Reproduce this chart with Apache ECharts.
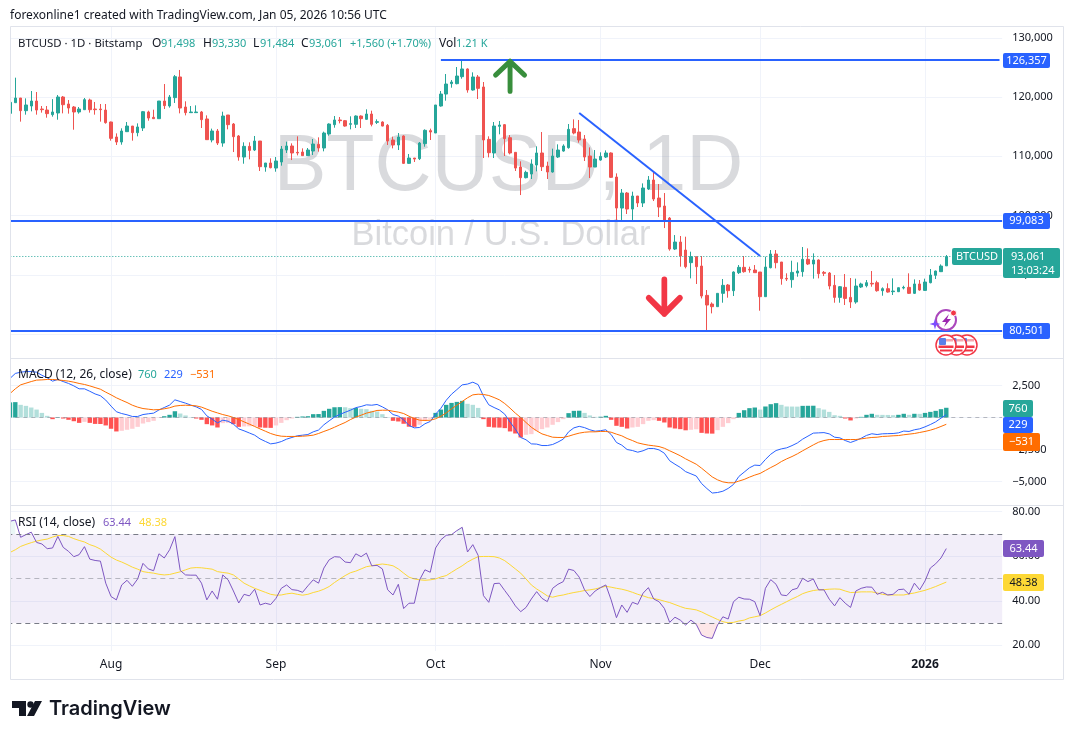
<!DOCTYPE html>
<html>
<head>
<meta charset="utf-8">
<title>BTCUSD</title>
<script src="https://cdn.jsdelivr.net/npm/echarts@6/dist/echarts.min.js"></script>
<style>
html,body{margin:0;padding:0;background:#fff}
#chart{width:1074px;height:739px}
</style>
</head>
<body>
<div id="chart"></div>
<script>
var opens = [
117240,119040,119830,117690,118480,119320,117970,117800,117020,117300,
120000,118820,118310,117470,117860,119490,117970,117970,117800,115780,
113250,112400,114150,115100,113980,114770,117470,116570,116340,119320,
118480,119890,123380,118310,117360,117360,117470,116290,112740,114260,
112230,116960,115440,113420,109870,111670,111050,112570,108180,108860,
108010,109030,111050,111730,110660,110710,110100,110880,112010,111390,
113750,115330,116120,116000,115390,115390,116790,116230,117130,115720,
115780,115220,112740,111900,113420,108800,109700,109590,112120,114320,
113920,118480,120500,122250,122250,123430,124730,121180,123380,121690,
112850,110550,115050,115330,113130,110660,108180,106380,107000,108520,
110550,108350,107340,109870,110880,111450,114660,114090,112910,110040,
108180,109360,109870,110550,106490,101260,103790,101090,103290,102110,
104470,105990,102950,101600,99570,94340,95520,94170,92040,93050,
91470,86520,85060,84610,86860,88270,87310,90350,91250,90910,
90800,90460,86300,91190,93500,92150,89390,89170,90290,90520,
92600,91810,92490,90400,90290,88210,86180,87870,86180,85400,
87930,88150,88550,88660,87310,87650,87140,87140,87760,87870,
86860,88440,87360,88660,89900,90520,91498];
var closes = [
119100,119830,117690,118650,119320,117800,117860,117190,117470,120000,
118700,118140,117470,117970,119550,117860,117860,117860,115670,113020,
112400,114260,115100,113980,114940,117520,116450,116340,119320,118540,
120000,123430,118140,117360,117470,117470,116170,112800,114260,112230,
116790,115330,113300,109870,111670,110990,112570,108240,108860,108070,
109200,111220,111730,110550,110550,110100,111050,112060,111390,113920,
115440,116120,116000,115100,115500,116790,116340,117130,115390,115840,
115100,112570,111900,113250,108800,109700,109530,112230,114370,114090,
118650,120500,122190,122530,123540,124730,121180,123380,121460,112740,
110600,115100,115270,112970,110550,108010,106380,107280,108690,110550,
108240,107340,110040,111050,111730,114540,113920,112740,109870,108180,
109530,109980,110550,106440,101260,103790,101090,103290,102110,104640,
105990,102780,101430,99240,94340,95520,93160,91360,93050,91360,
86410,84890,84610,86860,88210,87310,90460,91250,90520,90800,
90350,86300,91300,93500,92040,89340,89280,90400,90630,92600,
91810,92490,90180,90240,88100,86180,87980,86010,85400,88100,
88440,88660,88440,87310,87650,87080,87250,87810,87870,86860,
88440,87420,88770,89950,90630,91470,93061];
var lows = [
117240,119040,115840,117020,117580,117020,117360,116510,116680,116170,
117240,117190,114480,117190,117800,117360,117020,115840,115500,112630,
111900,111950,114090,112630,113360,114260,116000,116340,116340,117970,
118200,118990,117240,116900,117360,117360,114770,112740,112350,111900,
111610,114540,110710,109250,108740,109480,110880,107510,107390,107960,
107390,108410,110550,109360,110150,110100,110040,110210,110770,110830,
113470,114820,115550,114990,114540,114770,114770,116170,115050,115440,
115050,111900,111330,111050,108690,108690,109030,109360,111610,112740,
113920,118370,119380,121570,122140,123090,120730,121070,119660,109700,
109810,109700,113700,110040,110320,107510,103450,106270,106160,107450,
107510,106160,107230,109700,110770,111280,113700,112290,109200,106330,
108180,109250,109700,106330,99070,99070,100250,99240,101430,101430,
104300,102440,99740,97880,94060,94170,91360,91080,89390,88440,
86010,80501,83480,84610,85280,86130,86410,90120,90350,90350,
90350,83930,86300,91080,91080,88320,88940,87810,89670,89670,
91640,89340,89390,89780,87530,85280,85280,84890,84380,85110,
87760,87870,87980,87140,86460,86970,86580,87080,87530,86750,
86750,87310,87310,88550,89280,90460,91484];
var highs = [
119100,123260,119830,119770,121010,120840,118480,118480,119640,120340,
120170,119490,118480,118310,119830,119720,119160,118820,118820,115840,
113860,114710,115780,115100,115550,117640,117690,117860,119320,122190,
120340,123710,124560,119270,118480,118590,117640,116900,114660,114600,
117520,116960,115610,113580,112350,112350,113420,112570,108860,109650,
109870,111730,112460,112180,113360,111330,111390,112910,113190,114150,
115550,116790,116620,116120,116740,116900,116900,117920,117690,116230,
115890,115440,113300,113920,113530,110380,109700,112400,114540,114660,
118650,121010,123880,122870,125060,126357,124840,124160,123710,122530,
113360,115780,115950,115440,113580,110660,109140,107560,109480,111670,
114090,109080,111280,112010,112010,115440,116230,116120,113580,111500,
111050,110660,110990,110660,107110,104470,103960,104020,103290,105420,
106660,107340,105310,103790,99740,96700,96540,96420,93890,93050,
93160,87420,85340,86860,89280,88440,90570,91640,93160,91360,
91640,90460,93050,94170,94170,92150,90240,92370,92090,94680,
94450,93610,92600,90630,90460,89950,88100,90120,89450,89340,
88660,89110,90630,88990,87870,88550,89390,87870,88150,90240,
89220,89110,89340,90970,90690,91750,93330];

var macdHist = [
1180,1200,990,910,780,620,360,130,-130,30,
-80,-180,-290,-420,-340,-420,-500,-510,-620,-880,
-1090,-1040,-960,-880,-730,-470,-360,-260,-30,100,
210,490,310,160,30,-80,-180,-520,-620,-780,
-440,-420,-520,-730,-700,-690,-680,-780,-800,-810,
-620,-420,-210,-80,50,80,100,260,270,520,
680,800,810,800,730,740,680,650,520,470,
260,30,-260,-310,-490,-720,-730,-570,-260,-100,
360,620,990,1140,1220,1300,1070,990,750,-130,
-730,-780,-790,-830,-1090,-1250,-1560,-1350,-1300,-1040,
-910,-780,-570,-360,-130,340,520,530,360,160,
50,60,130,-180,-650,-730,-860,-780,-730,-520,
-260,-210,-260,-390,-780,-860,-910,-1000,-960,-920,
-1200,-1250,-1260,-990,-730,-440,-130,360,570,730,
780,620,860,1040,1120,990,860,855,850,910,
915,920,730,620,440,180,130,-80,-230,-80,
50,210,290,210,205,200,180,210,290,210,
290,285,360,440,520,650,760];
var macdLine = [
3050,3440,3540,3590,3590,3540,3300,3100,2840,2970,
2810,2660,2470,2240,2240,2050,1840,1700,1360,890,
450,310,210,80,80,230,290,340,590,780,
970,1380,1250,1120,970,830,630,130,-130,-420,
-210,-290,-520,-890,-1040,-1210,-1380,-1670,-1870,-2060,
-2000,-1880,-1690,-1560,-1430,-1380,-1330,-1120,-980,-570,
-260,40,240,410,570,770,860,990,960,1020,
830,600,230,110,-180,-620,-810,-780,-490,-310,
260,720,1350,1820,2180,2550,2610,2760,2570,1670,
990,780,590,260,-360,-910,-1560,-1740,-2060,-2080,
-2190,-2190,-2110,-1920,-1690,-1120,-810,-690,-790,-960,
-1070,-1030,-960,-1330,-1950,-2160,-2500,-2580,-2710,-2600,
-2420,-2420,-2530,-2790,-3380,-3650,-3900,-4230,-4400,-4570,
-5160,-5550,-5900,-5860,-5760,-5540,-5230,-4610,-4270,-3930,
-3720,-3750,-3280,-2870,-2580,-2450,-2370,-2195,-1990,-1690,
-1455,-1220,-1200,-1180,-1280,-1540,-1590,-1800,-1950,-1800,
-1620,-1400,-1270,-1330,-1275,-1260,-1250,-1200,-1060,-1090,
-960,-885,-730,-550,-340,-50,229];
var macdSignal = [
1870,2240,2550,2680,2810,2920,2940,2970,2970,2940,
2890,2840,2760,2660,2580,2470,2340,2210,1980,1770,
1540,1350,1170,960,810,700,650,600,620,680,
760,890,940,960,940,910,810,650,490,360,
230,130,0,-160,-340,-520,-700,-890,-1070,-1250,
-1380,-1460,-1480,-1480,-1480,-1460,-1430,-1380,-1250,-1090,
-940,-760,-570,-390,-160,30,180,340,440,550,
570,570,490,420,310,100,-80,-210,-230,-210,
-100,100,360,680,960,1250,1540,1770,1820,1800,
1720,1560,1380,1090,730,340,0,-390,-760,-1040,
-1280,-1410,-1540,-1560,-1560,-1460,-1330,-1220,-1150,-1120,
-1120,-1090,-1090,-1150,-1300,-1430,-1640,-1800,-1980,-2080,
-2160,-2210,-2270,-2400,-2600,-2790,-2990,-3230,-3440,-3650,
-3960,-4300,-4640,-4870,-5030,-5100,-5100,-4970,-4840,-4660,
-4500,-4370,-4140,-3910,-3700,-3440,-3230,-3050,-2840,-2600,
-2370,-2140,-1930,-1800,-1720,-1720,-1720,-1720,-1720,-1720,
-1670,-1610,-1560,-1540,-1480,-1460,-1430,-1410,-1350,-1300,
-1250,-1170,-1090,-990,-860,-700,-531];

var rsi = [
75.7,76.3,68.5,69.7,70.8,66.2,65.5,63.4,63.7,68.9,
64,62.2,59.8,60.7,64.3,58.7,58.1,57.8,47.9,41.9,
40.4,47.1,49.2,46.5,49.8,56.8,54.3,53.5,61.1,59.2,
62.9,68.8,53.6,51.6,51.5,51.5,47.9,40.4,44.4,40.7,
51.6,49.4,44.4,39,42.9,42.2,45.2,38.1,38.9,38.3,
41.1,45.6,47.1,45,44.7,43.8,46.7,49.4,47.9,54.7,
58.4,59.8,59.6,57.4,57.1,61.1,59.8,61.4,55.7,55.9,
54.3,44.9,42.6,47.4,36.5,38.9,38.9,49.4,53.9,52.8,
63.7,67.4,69.4,69.7,71.5,73,61.9,65.2,60.4,42.3,
39.3,47.7,47.9,44.6,41.4,37.7,35.1,37,40.8,44.1,
41.1,39.6,45.6,47.4,48.6,54.2,53.6,50.6,44.9,41.9,
44.4,45.9,47.1,40.4,32.4,38.1,34.8,39.3,38.4,43.4,
45.9,40.8,39.6,36.6,30.3,32.6,31.3,29.1,31.3,29.4,
24.6,23.5,23.1,29.1,32.8,31.8,39.6,41.6,40.8,40.7,
39.6,33.3,45.6,49.5,47.4,42.6,42.3,44.9,45.6,50.1,
48.6,49.8,44.9,44.9,40.7,37.7,41.4,38.9,37,44.4,
45.6,46.2,46.1,42.9,43.8,42.6,42.9,45,45.2,42.9,
47.9,44.9,48.9,54.7,56.6,59.2,63.44];
var rsiMa = [
61.7,62.9,64.4,65.3,66.1,66.8,67.3,67.7,68.6,69.3,
69.3,68.9,67.9,67.1,66.4,65.2,64.4,63.2,61.4,59.6,
58.3,57.4,56.3,55.1,54.2,53.1,52.7,52.4,51.9,51.6,
51.8,52.4,53,53.9,54.7,54.9,54.8,54.5,54.2,53.1,
52.7,52.4,51.6,49.8,47.9,46.7,45.6,44.7,43.8,42.9,
42.5,42.6,43.1,43.4,42.9,42.5,42.9,43.7,44.3,45.2,
46.4,48.2,49.8,51.3,52.6,53.3,54.3,55.3,55.7,56.2,
56.5,56.2,55.7,54.3,52.4,50.6,49.8,49.4,49.2,49.4,
49.8,50.7,51.3,52.8,54.3,55.7,57.4,58.7,59.8,59.9,
59.9,59.8,59.2,58,56.2,54.3,52.4,49.8,47.1,45.3,
43.8,42.2,41.6,42.2,42.6,43.2,43.7,44.1,44.6,44.9,
45.3,45.9,46.5,46.1,45.6,45.2,44.6,43.8,42.9,42.2,
41.4,41,40.5,39.8,39.2,38.3,37.4,36.6,36.3,35.9,
35,33.8,32.7,31.6,30.6,30.1,30.3,30.9,31.3,32.3,
32.8,33.3,34.5,35.9,37.2,38.4,39.6,40.8,41.9,43.2,
44,44.6,44.9,45,45.2,45.3,45.2,44.4,43.7,43.8,
44,44,44,43.5,42.9,42.6,42.6,42.6,42.6,43.1,
43.5,44.1,44.7,45.5,46.4,47.4,48.38];

var levelTop = 126357, levelMid = 99083, levelLow = 80501, lastPrice = 93061;
var monthLabels = {'2025-08-01':'Aug','2025-09-01':'Sep','2025-10-01':'Oct','2025-11-01':'Nov','2025-12-01':'Dec','2026-01-01':'2026'};

var FONT = '"Noto Sans", sans-serif';
var UP = '#26a69a', DOWN = '#ef5350', BLUE = '#2962ff', GRID = '#f0f3fa', BORDER = '#e0e3eb', INK = '#131722';

// daily categories, running on past the last bar for the empty right margin
var dates = [];
for (var d = 0; d < 187; d++) {
    dates.push(new Date(Date.UTC(2025, 6, 13 + d)).toISOString().slice(0, 10));
}
var candles = opens.map(function(o, i){ return [o, closes[i], lows[i], highs[i]]; });

var isMonth = function(index, name){ return !!monthLabels[name]; };

function money(v){ return Math.abs(v).toLocaleString('en-US'); }

function baseX(gridIndex){
    return {
        type: 'category', gridIndex: gridIndex, data: dates, boundaryGap: true,
        axisLine: {show: false}, axisTick: {show: false}, axisLabel: {show: false}, splitLine: {show: false}
    };
}

function text(x, y, str, color, size, weight, align){
    return {
        type: 'text', x: x, y: y + 1.5, z: 40, silent: true,
        style: {text: str, fill: color, textVerticalAlign: 'middle', textAlign: align || 'left',
            font: (weight || 'normal') + ' ' + (size || 12) + 'px ' + FONT}
    };
}

function tag(x, y, w, h, str, bg, color){
    return [
        {type: 'rect', z: 30, silent: true, shape: {x: x, y: y, width: w, height: h, r: 2}, style: {fill: bg}},
        text(x + w / 2, y + h / 2 - 1.5, str, color || '#fff', 11, 'normal', 'center')
    ];
}

function flag(cx, cy){
    return [
        {type: 'circle', z: 31, shape: {cx: cx, cy: cy, r: 10}, style: {fill: '#fff', stroke: '#f23645', lineWidth: 1.5}},
        {type: 'rect', z: 31, shape: {x: cx - 7, y: cy - 6, width: 14, height: 2.5}, style: {fill: '#f7a5ab'}},
        {type: 'rect', z: 31, shape: {x: cx - 7.5, y: cy + 0.5, width: 15, height: 2.5}, style: {fill: '#f23645'}},
        {type: 'rect', z: 31, shape: {x: cx - 6, y: cy + 4.5, width: 12, height: 2}, style: {fill: '#f23645'}},
        {type: 'rect', z: 31, shape: {x: cx - 7, y: cy - 7, width: 7, height: 7, r: 1}, style: {fill: '#5b7fe8'}}
    ];
}

var graphics = [
    // hides the half band left of the pane and draws the frame
    {type: 'rect', z: 20, silent: true, shape: {x: 0, y: 26, width: 10, height: 655}, style: {fill: '#fff'}},
    {type: 'rect', z: 21, silent: true, shape: {x: 10.5, y: 26.5, width: 1053, height: 653}, style: {fill: 'none', stroke: BORDER, lineWidth: 1}},
    {type: 'line', z: 21, silent: true, shape: {x1: 10, y1: 358.5, x2: 1064, y2: 358.5}, style: {stroke: BORDER, lineWidth: 1}},
    {type: 'line', z: 21, silent: true, shape: {x1: 10, y1: 505.5, x2: 1064, y2: 505.5}, style: {stroke: BORDER, lineWidth: 1}},

    // watermark
    {type: 'text', x: 508.5, y: 168, z: 1, silent: true, style: {text: 'BTCUSD, 1D', fill: 'rgba(120,123,134,0.28)', textAlign: 'center', textVerticalAlign: 'middle', font: '79px "Liberation Sans", Arial, sans-serif'}},
    {type: 'text', x: 501, y: 235, z: 1, silent: true, style: {text: 'Bitcoin / U.S. Dollar', fill: 'rgba(120,123,134,0.28)', textAlign: 'center', textVerticalAlign: 'middle', font: '34.5px "Liberation Sans", Arial, sans-serif'}},

    // header and pane legends
    text(10, 14, 'forexonline1 created with TradingView.com, Jan 05, 2026 10:56 UTC', INK),
    text(18, 42, 'BTCUSD · 1D · Bitstamp', INK, 11.4),
    text(152, 42, 'O', INK), text(161, 42, '91,498', UP, 11),
    text(203, 42, 'H', INK), text(212, 42, '93,330', UP, 11),
    text(253, 42, 'L', INK), text(260, 42, '91,484', UP, 11),
    text(301, 42, 'C', INK), text(309, 42, '93,061', UP, 11),
    text(350, 42, '+1,560 (+1.70%)', UP, 11),
    text(439, 42, 'Vol', INK), text(456, 42, '1.21 K', UP, 11),
    text(18, 373, 'MACD (12, 26, close)', INK),
    text(138, 373, '760', UP, 11), text(164, 373, '229', BLUE, 11), text(190, 373, '−531', '#ff6d00', 11),
    text(18, 521, 'RSI (14, close)', INK),
    text(103, 521, '63.44', '#7e57c2', 11), text(139, 521, '48.38', '#fdd835', 11),

    // event badge
    {type: 'circle', z: 31, shape: {cx: 946, cy: 320, r: 10}, style: {fill: '#fff', stroke: '#ab47bc', lineWidth: 2}},
    {type: 'polygon', z: 32, shape: {points: [[949, 314], [942, 322], [946, 322], [944, 327], [951, 319], [947, 319]]}, style: {fill: '#9c27b0'}},
    {type: 'circle', z: 33, shape: {cx: 953.5, cy: 313, r: 3}, style: {fill: '#f23645', stroke: '#fff', lineWidth: 1}},
    {type: 'polygon', z: 33, shape: {points: [[935, 318.5], [936.2, 322.8], [940.5, 324], [936.2, 325.2], [935, 329.5], [933.8, 325.2], [929.5, 324], [933.8, 322.8]]}, style: {fill: '#7c4dff'}},

    // logo
    {type: 'polygon', z: 40, silent: true, shape: {points: [[12, 701], [26, 701], [26, 716], [19, 716], [19, 708], [12, 708]]}, style: {fill: INK}},
    {type: 'polygon', z: 40, silent: true, shape: {points: [[35, 701], [42, 701], [34, 716], [27, 716]]}, style: {fill: INK}},
    {type: 'circle', z: 40, silent: true, shape: {cx: 30.5, cy: 704.5, r: 3.2}, style: {fill: INK}},
    {type: 'text', x: 49, y: 709, z: 40, silent: true, style: {text: 'TradingView', fill: INK, textVerticalAlign: 'middle', font: '600 20px Inter, sans-serif'}}
];
graphics = graphics
    .concat(flag(967, 345), flag(956.5, 345), flag(946, 345))
    .concat(tag(1003, 53, 47, 15, '126,357', BLUE))
    .concat(tag(1003, 213, 47, 16, '99,083', BLUE))
    .concat(tag(1003, 323, 47, 16, '80,501', BLUE))
    .concat(tag(952, 248, 50, 17, 'BTCUSD', UP))
    .concat([{type: 'rect', z: 30, silent: true, shape: {x: 1003, y: 248, width: 57, height: 30, r: 2}, style: {fill: UP}},
        text(1011, 255, '93,061', '#fff', 11), text(1011, 269, '13:03:24', '#fff', 11)])
    .concat(tag(1003, 400, 30, 17, '760', UP))
    .concat(tag(1003, 417, 30, 16, '229', BLUE))
    .concat(tag(1003, 433, 37, 18, '−531', '#ff6d00'))
    .concat(tag(1003, 540, 41, 17, '63.44', '#7e57c2'))
    .concat(tag(1003, 574, 41, 17, '48.38', '#fdd835', INK));

var noLine = {symbol: 'none', silent: true, label: {show: false}};

var option = {
    animation: false,
    backgroundColor: '#fff',
    textStyle: {fontFamily: FONT},
    graphic: graphics,
    grid: [
        {left: 7.32, width: 994.84, top: 37.75, height: 296.25},
        {left: 7.32, width: 994.84, top: 369.5, height: 144},
        {left: 7.32, width: 994.84, top: 511.7, height: 133.6},
        {left: 7.32, width: 994.84, top: 26, height: 625}
    ],
    xAxis: [
        baseX(0), baseX(1), baseX(2),
        {
            type: 'category', gridIndex: 3, data: dates, boundaryGap: true,
            axisLine: {show: false},
            axisTick: {show: false, alignWithLabel: true, interval: isMonth},
            splitLine: {show: true, alignWithLabel: true, interval: isMonth, lineStyle: {color: GRID, width: 1}},
            axisLabel: {
                show: true, interval: isMonth, margin: 8, color: INK, fontSize: 12, fontFamily: FONT,
                formatter: function(name){
                    var s = monthLabels[name] || '';
                    return s === '2026' ? '{b|2026}' : s;
                },
                rich: {b: {fontWeight: 'bold', fontSize: 12, color: INK, fontFamily: FONT}}
            }
        }
    ],
    yAxis: [
        {
            gridIndex: 0, position: 'right', min: 80000, max: 130000, interval: 10000, scale: true,
            axisLine: {show: false}, axisTick: {show: false},
            splitLine: {lineStyle: {color: GRID, width: 1}},
            axisLabel: {color: INK, fontSize: 11, margin: 10, fontFamily: FONT, formatter: money}
        },
        {
            gridIndex: 1, position: 'right', min: -7500, max: 3750, interval: 2500,
            axisLine: {show: false}, axisTick: {show: false},
            splitLine: {showMinLine: false, showMaxLine: false, lineStyle: {color: GRID, width: 1}},
            axisLabel: {color: INK, fontSize: 11, margin: 10, fontFamily: FONT, showMinLabel: false, showMaxLabel: false,
                formatter: function(v){ return (v < 0 ? '−' : '') + money(v); }}
        },
        {
            gridIndex: 2, position: 'right', min: 20, max: 80, interval: 20,
            axisLine: {show: false}, axisTick: {show: false},
            splitLine: {lineStyle: {color: GRID, width: 1}},
            axisLabel: {color: INK, fontSize: 11, margin: 10, fontFamily: FONT,
                formatter: function(v){ return v.toFixed(2); }}
        },
        {gridIndex: 3, show: false, min: 0, max: 1}
    ],
    series: [
        {
            type: 'candlestick', name: 'BTCUSD', xAxisIndex: 0, yAxisIndex: 0, data: candles, barWidth: 3,
            itemStyle: {color: UP, color0: DOWN, borderColor: UP, borderColor0: DOWN, borderWidth: 1},
            markLine: {
                symbol: 'none', silent: true, animation: false, label: {show: false},
                emphasis: {disabled: true},
                data: [
                    {yAxis: lastPrice, lineStyle: {color: UP, type: [1, 2], width: 1}},
                    {yAxis: levelMid, lineStyle: {color: BLUE, type: 'solid', width: 2}},
                    {yAxis: levelLow, lineStyle: {color: BLUE, type: 'solid', width: 2}},
                    [{coord: [dates[81], levelTop], lineStyle: {color: BLUE, type: 'solid', width: 2}}, {coord: [dates[186], levelTop]}],
                    [{coord: [dates[107], 117300], lineStyle: {color: BLUE, type: 'solid', width: 2}}, {coord: [dates[141], 93160]}]
                ]
            },
            markPoint: {
                silent: true, animation: false, label: {show: false},
                data: [
                    {coord: [dates[94], 123500], symbol: 'path://M0,12 L12,0 L24,12 M12,0 L12,26', symbolSize: [29, 30], symbolKeepAspect: false,
                        itemStyle: {color: 'none', borderColor: '#388e3c', borderWidth: 5, borderCap: 'round', borderJoin: 'round'}},
                    {coord: [dates[123], 86300], symbol: 'path://M0,14 L12,26 L24,14 M12,26 L12,0', symbolSize: [31, 34], symbolKeepAspect: false,
                        itemStyle: {color: 'none', borderColor: '#f23645', borderWidth: 6, borderCap: 'round', borderJoin: 'round'}}
                ]
            }
        },
        {
            type: 'bar', name: 'Histogram', xAxisIndex: 1, yAxisIndex: 1, data: macdHist, barWidth: 4.4,
            itemStyle: {color: function(p){
                var v = p.value, prev = macdHist[p.dataIndex - 1];
                if (v >= 0) return (prev === undefined || v > prev) ? UP : '#b2dfdb';
                return v < prev ? '#ff5252' : '#ffcdd2';
            }},
            markLine: Object.assign({}, noLine, {data: [{yAxis: 0}], lineStyle: {color: '#787b86', type: [4, 4], width: 1, opacity: 0.5}})
        },
        {type: 'line', name: 'MACD', xAxisIndex: 1, yAxisIndex: 1, data: macdLine, symbol: 'none', lineStyle: {color: BLUE, width: 1}},
        {type: 'line', name: 'Signal', xAxisIndex: 1, yAxisIndex: 1, data: macdSignal, symbol: 'none', lineStyle: {color: '#ff6d00', width: 1}},
        {
            type: 'line', name: 'RSI', xAxisIndex: 2, yAxisIndex: 2, data: rsi, symbol: 'none', z: 4,
            lineStyle: {color: '#7e57c2', width: 1},
            markArea: {silent: true, itemStyle: {color: 'rgba(126,87,194,0.1)'}, data: [[{yAxis: 70}, {yAxis: 30}]]},
            markLine: Object.assign({}, noLine, {
                lineStyle: {color: '#787b86', type: [5, 4], width: 1},
                data: [{yAxis: 70}, {yAxis: 50, lineStyle: {color: '#787b86', type: [5, 4], width: 1, opacity: 0.5}}, {yAxis: 30}]
            })
        },
        {
            type: 'line', name: 'RSI MA', xAxisIndex: 2, yAxisIndex: 2, data: rsiMa, symbol: 'none', z: 3,
            lineStyle: {color: '#fdd835', width: 1}
        },
        {
            type: 'line', name: 'Oversold', xAxisIndex: 2, yAxisIndex: 2, symbol: 'none', silent: true,
            data: rsi.map(function(v){ return v < 30 ? v : null; }),
            lineStyle: {width: 0},
            areaStyle: {origin: 30, color: 'rgba(242,54,69,0.18)'}
        },
        {
            type: 'line', name: 'Overbought', xAxisIndex: 2, yAxisIndex: 2, symbol: 'none', silent: true,
            data: rsi.map(function(v){ return v > 70 ? v : null; }),
            lineStyle: {width: 0},
            areaStyle: {origin: 70, color: 'rgba(38,166,154,0.14)'}
        }
    ]
};

var chart = echarts.init(document.getElementById('chart'));
chart.setOption(option);
</script>
</body>
</html>
